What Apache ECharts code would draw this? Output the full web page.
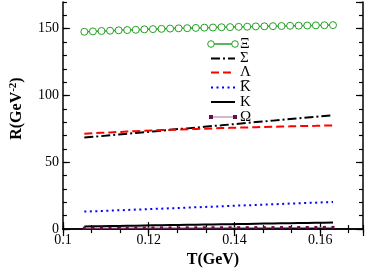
<!DOCTYPE html>
<html><head><meta charset="utf-8">
<script src="https://cdn.jsdelivr.net/npm/echarts@6/dist/echarts.min.js"></script>
<style>html,body{margin:0;padding:0;background:#fff}#c{width:366px;height:273px}</style>
</head><body><div id="c"></div>
<script>
const T = [0.105,0.107,0.109,0.111,0.113,0.115,0.117,0.119,0.121,0.123,0.125,0.127,0.129,0.131,0.133,0.135,0.137,0.139,0.141,0.143,0.145,0.147,0.149,0.151,0.153,0.155,0.157,0.159,0.161,0.163];
const xi = [147.7,148.0,148.3,148.5,148.8,149.0,149.2,149.5,149.7,149.9,150.1,150.3,150.4,150.6,150.8,150.9,151.1,151.2,151.4,151.5,151.7,151.8,151.9,152.0,152.2,152.3,152.4,152.5,152.6,152.7];
const sigma = [68.5,69.1,69.6,70.2,70.8,71.4,72.0,72.5,73.1,73.7,74.3,74.9,75.4,76.0,76.6,77.2,77.7,78.3,78.9,79.5,80.1,80.6,81.2,81.8,82.4,82.9,83.5,84.1,84.7,85.3];
const lambda = [71.4,71.8,72.1,72.4,72.7,73.0,73.3,73.6,73.8,74.1,74.3,74.5,74.8,75.0,75.2,75.4,75.6,75.8,76.0,76.1,76.3,76.5,76.6,76.8,76.9,77.1,77.2,77.3,77.5,77.6];
const kbar = [13.1,13.3,13.6,13.8,14.1,14.3,14.6,14.8,15.1,15.3,15.6,15.8,16.1,16.3,16.6,16.8,17.1,17.3,17.6,17.8,18.1,18.3,18.6,18.8,19.1,19.3,19.6,19.8,20.1,20.3];
const kaon = [2.0,2.1,2.2,2.3,2.4,2.5,2.6,2.7,2.8,2.9,3.0,3.1,3.2,3.3,3.4,3.5,3.6,3.7,3.8,3.9,4.0,4.1,4.2,4.3,4.4,4.5,4.6,4.7,4.8,4.9];
const omega = [0.7,0.72,0.74,0.76,0.78,0.8,0.82,0.84,0.86,0.88,0.9,0.92,0.94,0.96,0.98,1.0,1.02,1.04,1.06,1.08,1.1,1.12,1.14,1.16,1.18,1.2,1.22,1.24,1.26,1.28];
const names = ['\u039E','\u03A3','\u039B','K\u0305','K','\u03A9'];
const xTicks = {min:0.1, max:0.17, interval:0.02};
const yTicks = {min:0, max:170, interval:50};

const pairs = a => T.map((t,i)=>[t,a[i]]);
const serif = '"Liberation Serif","DejaVu Serif",serif';
const chart = echarts.init(document.getElementById('c'));
const axLine = {show:true, lineStyle:{color:'#000', width:1.5}};
const baseX = (pos, labels) => ({
  type:'value', position:pos, min:xTicks.min, max:xTicks.max, interval:xTicks.interval,
  axisLine:axLine, splitLine:{show:false},
  axisTick:{show:true, inside:true, length:7, lineStyle:{color:'#000', width:1.2}},
  axisLabel:{show:labels, showMaxLabel:false, color:'#000', fontFamily:serif, fontSize:14, margin:4},
});
const minorX = (pos) => ({
  type:'value', position:pos, min:xTicks.min, max:xTicks.max, interval:xTicks.interval/3,
  axisLine:{show:false}, splitLine:{show:false}, axisLabel:{show:false},
  axisTick:{show:true, inside:true, length:4, lineStyle:{color:'#000', width:1.2}}
});
const baseY = (pos, labels) => ({
  type:'value', position:pos, min:yTicks.min, max:yTicks.max, interval:yTicks.interval,
  axisLine:axLine, splitLine:{show:false},
  axisTick:{show:true, inside:true, length:7, lineStyle:{color:'#000', width:1.2}},
  axisLabel:{show:labels, showMaxLabel:false, color:'#000', fontFamily:serif, fontSize:14, margin:4},
});
const minorY = (pos) => ({
  type:'value', position:pos, min:yTicks.min, max:yTicks.max, interval:10,
  axisLine:{show:false}, splitLine:{show:false}, axisLabel:{show:false},
  axisTick:{show:true, inside:true, length:4, lineStyle:{color:'#000', width:1.2}}
});
const xs = [baseX('bottom', true), baseX('top', false), minorX('bottom'), minorX('top')];
xs[0].name = 'T(GeV)'; xs[0].nameLocation='middle'; xs[0].nameGap=20;
xs[0].nameTextStyle = {fontFamily:serif, fontWeight:'bold', fontSize:16, color:'#000'};
const ys = [baseY('left', true), baseY('right', false), minorY('left'), minorY('right')];
ys[0].name = '{b|R(GeV}{s|-2}{b|)}'; ys[0].nameLocation='middle'; ys[0].nameGap=29; ys[0].nameRotate=90;
ys[0].nameTextStyle = {padding:[0,0,0,14], rich:{
  b:{fontFamily:serif, fontWeight:'bold', fontSize:16, color:'#000', lineHeight:18},
  s:{fontFamily:serif, fontWeight:'bold', fontSize:11, color:'#000', verticalAlign:'top', lineHeight:18, padding:[0,0,8,0]}
}};

const styles = [
  {color:'#22a022', type:'solid', width:1.5},
  {color:'#000', type:[9,3,2,3], width:2},
  {color:'#ff0000', type:[8,4], width:2},
  {color:'#0000ff', type:[2,3.5], width:2},
  {color:'#000', type:'solid', width:2},
  {color:'#b07090', type:'solid', width:1}
];
const datasets = [xi, sigma, lambda, kbar, kaon, omega];
const series = datasets.map((d,i)=>({
  name:names[i], type:'line', data:pairs(d), xAxisIndex:0, yAxisIndex:0,
  showSymbol:false, symbol:'none', animation:false, lineStyle:styles[i], itemStyle:{color:styles[i].color}
}));
Object.assign(series[0], {showSymbol:true, symbol:'circle', symbolSize:7,
  itemStyle:{color:'#fff', borderColor:'#22a022', borderWidth:1}});
Object.assign(series[5], {showSymbol:true, symbol:'rect', symbolSize:3, itemStyle:{color:'#6a0a50'}});

// legend drawn as graphic (samples + real text)
const legY = [44, 58.5, 72.5, 87.5, 102, 117];
const lx0 = 211, lx1 = 235, tx = 240;
const graphic = [];
legY.forEach((y,i)=>{
  graphic.push({type:'line', shape:{x1:lx0,y1:y,x2:lx1,y2:y}, style:{stroke:styles[i].color, lineWidth:styles[i].width, lineDash: Array.isArray(styles[i].type)?styles[i].type:null}, silent:true});
  graphic.push({type:'text', x:tx, y:y, style:{text:names[i], font:'15px '+serif, fill:'#000', verticalAlign:'middle', align:'left'}, silent:true});
});
[lx0, lx1].forEach(x=>{
  graphic.push({type:'circle', shape:{cx:x, cy:legY[0], r:3.3}, style:{fill:'#fff', stroke:'#22a022', lineWidth:1}, silent:true});
  graphic.push({type:'rect', shape:{x:x-2, y:legY[5]-2, width:4, height:4}, style:{fill:'#6a0a50'}, silent:true});
});

chart.setOption({
  animation:false,
  grid:{left:48, right:3, top:2, bottom:34, containLabel:false},
  xAxis: xs, yAxis: ys,
  series, graphic
});
</script></body></html>
